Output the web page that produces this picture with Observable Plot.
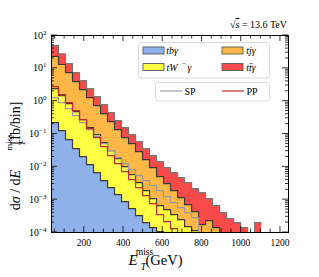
<!DOCTYPE html>
<html><head><meta charset="utf-8">
<script src="https://cdn.jsdelivr.net/npm/d3@7"></script>
<script src="https://cdn.jsdelivr.net/npm/@observablehq/plot@0.6"></script>
<style>
body{margin:0;background:#fff;}
svg{font-family:"Liberation Serif","DejaVu Serif",serif;}
</style></head><body><div id="chart"></div>
<script>
// bin edges (GeV), 30 bins + closing edge
const binEdges = [33, 68.7, 104.4, 140.1, 175.8, 211.5, 247.2, 282.9, 318.6, 354.3, 390, 425.7, 461.4, 497.1, 532.8, 568.5, 604.2, 639.9, 675.6, 711.3, 747, 782.7, 818.4, 854.1, 889.8, 925.5, 961.2, 996.9, 1032.6, 1068.3, 1104];
// stacked levels [fb/bin]
const stackTb    = [0.223, 0.127, 0.0675, 0.0359, 0.0205, 0.0117, 0.00665, 0.00379, 0.00232, 0.00142, 0.000869, 0.000532, 0.000325, 0.000199, 0.000140, 0.000106, 0, 0, 0, 0, 0, 0, 0, 0, 0, 0, 0, 0, 0, 0];
const stackTbTW  = [2.42, 1.48, 0.845, 0.482, 0.275, 0.157, 0.096, 0.0547, 0.0312, 0.0178, 0.0101, 0.00578, 0.00330, 0.00188, 0.00107, 0.000656, 0.000495, 0.000349, 0.000245, 0.000150, 0.000114, 0, 0, 0, 0, 0, 0, 0, 0, 0];
const stackTbTWTj= [22.9, 13.1, 7.45, 3.96, 2.26, 1.29, 0.734, 0.419, 0.239, 0.136, 0.0776, 0.0509, 0.0290, 0.0166, 0.00946, 0.00502, 0.00308, 0.00188, 0.00115, 0.000705, 0.000431, 0.000173, 0.000229, 0.000140, 0, 0, 0, 0, 0, 0];
const stackTotal = [49.5, 27.3, 14.0, 7.45, 4.25, 2.42, 1.38, 0.787, 0.449, 0.256, 0.157, 0.096, 0.0586, 0.0359, 0.0219, 0.0144, 0.00946, 0.00665, 0.00469, 0.00330, 0.00216, 0.00163, 0.00107, 0.000656, 0.000402, 0.000264, 0.000199, 0.000140, 0, 0.000199];
const lineSP = [1.29, 0.906, 0.594, 0.364, 0.223, 0.136, 0.0834, 0.0509, 0.0312, 0.0191, 0.0125, 0.00822, 0.00540, 0.00379, 0.00267, 0.00188, 0.00123, 0.000811, 0.000570, 0.000402, 0.000282, 0, 0, 0, 0, 0, 0, 0, 0, 0];
const linePP = [2.79, 1.59, 0.906, 0.516, 0.275, 0.146, 0.0776, 0.0413, 0.0219, 0.0125, 0.00714, 0.00407, 0.00232, 0.00132, 0.000755, 0.000349, 0.000213, 0.000131, 0, 0, 0, 0, 0, 0, 0, 0, 0, 0, 0, 0];
const xTickLabels = [200, 400, 600, 800, 1000, 1200];
const yTickExps = [-4, -3, -2, -1, 0, 1, 2];

const FLOOR = 1e-7;
function rows(vals) {
  const r = vals.map((v, i) => ({x: binEdges[i], y: v > 0 ? v : FLOOR}));
  r.push({x: binEdges[vals.length], y: r[r.length - 1].y});
  return r;
}
const layers = [
  {vals: stackTotal, fill: "#f94a4a", stroke: "#777777"},
  {vals: stackTbTWTj, fill: "#ffb847", stroke: "#3a3a3a"},
  {vals: stackTbTW, fill: "#ffff44", stroke: "#3a3a3a"},
  {vals: stackTb, fill: "#8fb1ea", stroke: "#3a3a3a"}
];
const marks = [];
for (const L of layers) {
  marks.push(Plot.areaY(rows(L.vals), {x: "x", y1: FLOOR, y2: "y", curve: "step-after", fill: L.fill, clip: true}));
  marks.push(Plot.lineY(rows(L.vals), {x: "x", y: "y", curve: "step-after", stroke: L.stroke, strokeWidth: 1.2, clip: true}));
}
marks.push(Plot.lineY(rows(lineSP), {x: "x", y: "y", curve: "step-after", stroke: "#9a9a9a", strokeWidth: 1.2, clip: true}));
marks.push(Plot.lineY(rows(linePP), {x: "x", y: "y", curve: "step-after", stroke: "#c42a2a", strokeWidth: 1.2, clip: true}));
marks.push(Plot.frame({stroke: "#000", strokeWidth: 1}));

const plot = Plot.plot({
  width: 319, height: 277,
  marginLeft: 51, marginRight: 31, marginTop: 35, marginBottom: 45,
  x: {domain: [33, 1241], axis: null},
  y: {type: "log", domain: [1e-4, 100], axis: null},
  style: {background: "white"},
  marks
});
document.getElementById("chart").appendChild(plot);

const svg = d3.select(plot);
const X = v => plot.scale("x").apply(v), Y = v => plot.scale("y").apply(v);
const Lp = 51, Rp = 288, Tp = 35, Bp = 232;
const g = svg.append("g").attr("stroke", "#000").attr("stroke-width", 0.8);
for (let t = 50; t <= 1200; t += 50) {
  const len = t % 200 === 0 ? 6 : 3.5, xx = X(t);
  g.append("line").attr("x1", xx).attr("x2", xx).attr("y1", Bp).attr("y2", Bp - len);
  g.append("line").attr("x1", xx).attr("x2", xx).attr("y1", Tp).attr("y2", Tp + len);
}
for (let k = -4; k <= 2; k++) {
  for (let m = 1; m <= 9; m++) {
    const v = m * Math.pow(10, k);
    if (v > 100) break;
    const len = m === 1 ? 6 : 3, yy = Y(v);
    g.append("line").attr("x1", Lp).attr("x2", Lp + len).attr("y1", yy).attr("y2", yy);
    g.append("line").attr("x1", Rp).attr("x2", Rp - len).attr("y1", yy).attr("y2", yy);
  }
}
const t = svg.append("g").attr("fill", "#000").attr("font-family", "Liberation Serif, serif");
for (const v of xTickLabels) {
  t.append("text").attr("x", X(v)).attr("y", 246).attr("text-anchor", "middle").attr("font-size", 9.5).text(v);
}
for (const e of yTickExps) {
  const tx = t.append("text").attr("x", 46.5).attr("y", Y(Math.pow(10, e)) + 3.5).attr("text-anchor", "end").attr("font-size", 10);
  tx.append("tspan").text("10");
  tx.append("tspan").attr("dy", -4).attr("font-size", 7).text(e < 0 ? "\u2212" + (-e) : String(e));
}
// x label: E_T^miss (GeV), absolute positions
t.append("text").attr("x", 133).attr("y", 265).attr("font-size", 15).attr("font-style", "italic").text("E");
t.append("text").attr("x", 144.5).attr("y", 254.5).attr("font-size", 9.5).text("miss");
t.append("text").attr("x", 143.5).attr("y", 270).attr("font-size", 9.5).attr("font-style", "italic").text("T");
t.append("text").attr("x", 164).attr("y", 265).attr("font-size", 14.5).text("(GeV)");
// y label: dσ / dE_T^miss [fb/bin], reading upward
function rot(x, y) { return `translate(${x},${y}) rotate(-90)`; }
const y0 = t.append("text").attr("transform", rot(20, 190)).attr("font-size", 14);
y0.append("tspan").text("d");
y0.append("tspan").attr("font-style", "italic").text("\u03c3");
y0.append("tspan").text(" / d");
y0.append("tspan").attr("font-style", "italic").text("E");
t.append("text").attr("transform", rot(11.5, 142.5)).attr("font-size", 9).text("miss");
t.append("text").attr("transform", rot(24.5, 143)).attr("font-size", 9).attr("font-style", "italic").text("T");
t.append("text").attr("transform", rot(20, 123)).attr("font-size", 14).text("[fb/bin]");
// sqrt s
const sq = t.append("text").attr("x", 287).attr("y", 28).attr("text-anchor", "end").attr("font-size", 10);
sq.append("tspan").text("\u221a");
sq.append("tspan").attr("font-style", "italic").attr("text-decoration", "overline").text("s");
sq.append("tspan").text(" = 13.6 TeV");

// legends
const lg = svg.append("g");
lg.append("rect").attr("x", 138.5).attr("y", 42.5).attr("width", 131).attr("height", 35.5).attr("rx", 2.5).attr("fill", "white").attr("fill-opacity", 0.85).attr("stroke", "#d2d2d2").attr("stroke-width", 0.8);
lg.append("rect").attr("x", 155.5).attr("y", 82.5).attr("width", 114).attr("height", 18.5).attr("rx", 2.5).attr("fill", "white").attr("fill-opacity", 0.85).attr("stroke", "#d2d2d2").attr("stroke-width", 0.8);
const entries = [
  {x: 143, y: 47, fill: "#8fb1ea", label: "tb\u03b3"},
  {x: 222, y: 47, fill: "#ffb847", label: "tj\u03b3"},
  {x: 143, y: 63.5, fill: "#ffff44", label: null},
  {x: 222, y: 63.5, fill: "#f94a4a", label: "tt\u0304\u03b3"}
];
for (const en of entries) {
  lg.append("rect").attr("x", en.x).attr("y", en.y).attr("width", 21).attr("height", 7).attr("fill", en.fill).attr("stroke", "#5a5a5a").attr("stroke-width", 0.9);
  if (en.label) {
    lg.append("text").attr("x", en.x + 29).attr("y", en.y + 7).attr("font-size", 10).attr("font-style", "italic").text(en.label);
  } else {
    lg.append("text").attr("x", en.x + 29).attr("y", en.y + 7).attr("font-size", 10).attr("font-style", "italic").text("tW");
    lg.append("text").attr("x", en.x + 41).attr("y", en.y + 2.5).attr("font-size", 7).text("\u2212");
    lg.append("text").attr("x", en.x + 46.5).attr("y", en.y + 7).attr("font-size", 10).attr("font-style", "italic").text("\u03b3");
  }
}
lg.append("line").attr("x1", 160).attr("x2", 182).attr("y1", 91).attr("y2", 91).attr("stroke", "#9a9a9a").attr("stroke-width", 1.2);
lg.append("text").attr("x", 190).attr("y", 94.5).attr("font-size", 10).text("SP");
lg.append("line").attr("x1", 222).attr("x2", 244).attr("y1", 91).attr("y2", 91).attr("stroke", "#c42a2a").attr("stroke-width", 1.2);
lg.append("text").attr("x", 252).attr("y", 94.5).attr("font-size", 10).text("PP");
</script></body></html>
